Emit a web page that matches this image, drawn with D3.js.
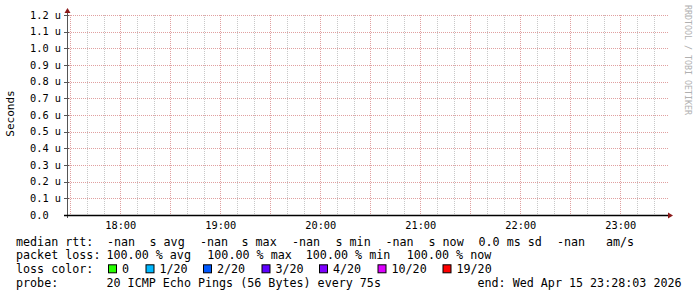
<!DOCTYPE html>
<html>
<head>
<meta charset="utf-8">
<script src="https://cdn.jsdelivr.net/npm/d3@7"></script>
<style>
  html, body { margin: 0; padding: 0; background: #ffffff; }
  svg { display: block; }
  text { font-family: "DejaVu Sans Mono", monospace; white-space: pre; }
</style>
</head>
<body>
<script>
// ---- data ----
const startTime = "2026-04-15T17:28:03Z";
const endTime = "2026-04-15T23:28:03Z";
const yTickValues = [0, 0.1e-6, 0.2e-6, 0.3e-6, 0.4e-6, 0.5e-6, 0.6e-6, 0.7e-6, 0.8e-6, 0.9e-6, 1.0e-6, 1.1e-6, 1.2e-6];
const yTickLabels = ["0.0  ", "0.1 u", "0.2 u", "0.3 u", "0.4 u", "0.5 u", "0.6 u", "0.7 u", "0.8 u", "0.9 u", "1.0 u", "1.1 u", "1.2 u"];
const xTickLabels = ["18:00", "19:00", "20:00", "21:00", "22:00", "23:00"];
const medianRtt = [NaN, NaN, NaN, NaN, NaN, NaN]; // all samples lost
const lossLabels = ["0", "1/20", "2/20", "3/20", "4/20", "10/20", "19/20"];
const lossColors = ["#26ff00", "#00b8ff", "#0059ff", "#5e00ff", "#7e00ff", "#dd00ff", "#ff0000"];
const rttStats = ["-nan", "s avg", "-nan", "s max", "-nan", "s min", "-nan", "s now", "0.0 ms sd", "-nan", "am/s"];
const lossStats = ["100.00 % avg", "100.00 % max", "100.00 % min", "100.00 % now"];
const probeText = "20 ICMP Echo Pings (56 Bytes) every 75s";
const endText = "end: Wed Apr 15 23:28:03 2026";

// ---- layout ----
const W = 697, H = 297;
const L = 67, R = 667, T = 15, B = 215;
const svg = d3.select("body").append("svg").attr("width", W).attr("height", H);
svg.append("rect").attr("width", W).attr("height", H).attr("fill", "#ffffff");

const x = d3.scaleUtc().domain([new Date(startTime), new Date(endTime)]).range([L, R]);
const y = d3.scaleLinear().domain([0, 1.2e-6]).range([B, T]);

// minor vertical grid (10 min)
const minor = d3.utcMinute.every(10).range(x.domain()[0], x.domain()[1]);
svg.append("g").selectAll("line").data(minor.filter(d => d.getUTCMinutes() % 30 !== 0)).join("line")
  .attr("x1", d => Math.round(x(d)) + 0.5).attr("x2", d => Math.round(x(d)) + 0.5)
  .attr("y1", T).attr("y2", B)
  .attr("stroke", "#c8c8c8").attr("stroke-width", 1).attr("stroke-dasharray", "1,1");

// major vertical grid (30 min)
const major = d3.utcMinute.every(30).range(x.domain()[0], x.domain()[1]);
svg.append("g").selectAll("line").data(major).join("line")
  .attr("x1", d => Math.round(x(d)) + 0.5).attr("x2", d => Math.round(x(d)) + 0.5)
  .attr("y1", T).attr("y2", B)
  .attr("stroke", "#e0a0a0").attr("stroke-width", 1).attr("stroke-dasharray", "1,1");

// horizontal major grid
svg.append("g").selectAll("line").data(yTickValues.slice(1)).join("line")
  .attr("x1", L).attr("x2", R + 2)
  .attr("y1", d => Math.round(y(d)) + 0.5).attr("y2", d => Math.round(y(d)) + 0.5)
  .attr("stroke", "#e0a0a0").attr("stroke-width", 1).attr("stroke-dasharray", "1,1");

// y ticks
svg.append("g").selectAll("line").data(yTickValues).join("line")
  .attr("x1", L - 3).attr("x2", L + 2)
  .attr("y1", d => Math.round(y(d)) + 0.5).attr("y2", d => Math.round(y(d)) + 0.5)
  .attr("stroke", "#555").attr("stroke-width", 1);

// y tick labels
svg.append("g").selectAll("text").data(yTickValues).join("text")
  .attr("x", 30).attr("y", d => y(d) + 3.7)
  .attr("font-size", "10.3px").attr("fill", "#000")
  .text((d, i) => yTickLabels[i]);

// x tick labels (hours)
const hours = d3.utcHour.every(1).range(x.domain()[0], x.domain()[1]);
svg.append("g").selectAll("text").data(hours).join("text")
  .attr("x", d => x(d) + 0.5).attr("y", 229)
  .attr("text-anchor", "middle")
  .attr("font-size", "10.3px").attr("fill", "#000")
  .text((d, i) => xTickLabels[i]);

// data line (all NaN -> nothing drawn)
const line = d3.line().defined(d => !isNaN(d)).x((d, i) => x(new Date(+x.domain()[0] + i * 3600e3))).y(d => y(d));
svg.append("path").datum(medianRtt).attr("d", line).attr("fill", "none").attr("stroke", "#00ff00");

// axes
svg.append("line").attr("x1", L + 0.5).attr("x2", L + 0.5).attr("y1", 11).attr("y2", B + 3)
  .attr("stroke", "#555").attr("stroke-width", 1);
svg.append("line").attr("x1", L - 3).attr("x2", R + 2).attr("y1", B + 0.5).attr("y2", B + 0.5)
  .attr("stroke", "#000").attr("stroke-width", 1.3);
// arrows
svg.append("path").attr("d", `M${L + 0.5},8 L${L + 3.5},13 L${L - 2.5},13 Z`).attr("fill", "#8b1a1a");
svg.append("path").attr("d", `M${R + 6},${B + 0.5} L${R + 1},${B - 2.5} L${R + 1},${B + 3.5} Z`).attr("fill", "#8b1a1a");

// y axis title
svg.append("text").attr("transform", "translate(14,113.5) rotate(-90)")
  .attr("text-anchor", "middle").attr("font-size", "11px").attr("fill", "#000")
  .text("Seconds");

// watermark
svg.append("text").attr("transform", "translate(684.5,60) rotate(90)")
  .attr("text-anchor", "middle").attr("font-size", "8.3px").attr("fill", "#b0b0b0")
  .text("RRDTOOL / TOBI OETIKER");

// ---- legend ----
const fs = "11.7px";
const lg = svg.append("g").attr("font-size", fs).attr("fill", "#000");
const baselines = [245.5, 259.3, 273.3, 287.3];

lg.append("text").attr("x", 16).attr("y", baselines[0]).text("median rtt:");
const rttX = [107, 149.5, 200, 241.5, 292, 335.5, 385.5, 428.5, 478.5, 557, 606];
lg.append("g").selectAll("text").data(rttStats).join("text")
  .attr("x", (d, i) => rttX[i]).attr("y", baselines[0]).text(d => d);

lg.append("text").attr("x", 16).attr("y", baselines[1]).text("packet loss:");
const lossX = [106.5, 207.3, 305.8, 406.8];
lg.append("g").selectAll("text").data(lossStats).join("text")
  .attr("x", (d, i) => lossX[i]).attr("y", baselines[1]).text(d => d);

lg.append("text").attr("x", 16).attr("y", baselines[2]).text("loss color:");
const boxX = [108, 145.5, 203, 261.5, 319, 377.5, 442.5];
lg.append("g").selectAll("rect").data(lossColors).join("rect")
  .attr("x", (d, i) => boxX[i] + 0.5).attr("y", baselines[2] - 8.5)
  .attr("width", 8).attr("height", 8)
  .attr("fill", d => d).attr("stroke", "#000").attr("stroke-width", 1);
lg.append("g").selectAll("text").data(lossLabels).join("text")
  .attr("x", (d, i) => boxX[i] + 14).attr("y", baselines[2]).text(d => d);

lg.append("text").attr("x", 16).attr("y", baselines[3]).text("probe:");
lg.append("text").attr("x", 106.5).attr("y", baselines[3]).text(probeText);
lg.append("text").attr("x", 477.5).attr("y", baselines[3]).text(endText);
</script>
</body>
</html>
